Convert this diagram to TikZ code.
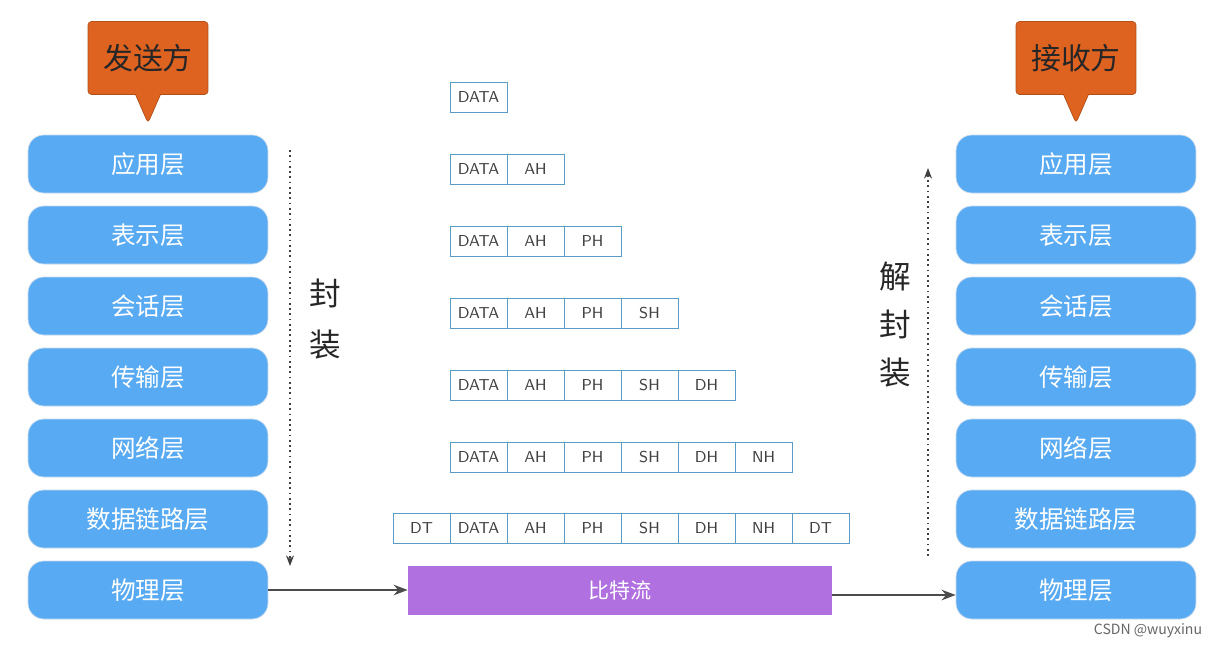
\documentclass[tikz,border=0pt]{standalone}
\usepackage{fontspec}
\setmainfont{Noto Sans CJK SC}
\usetikzlibrary{positioning,shapes.callouts,arrows.meta}
\definecolor{layerblue}{HTML}{58AAF2}
\definecolor{calloutorange}{HTML}{DE6220}
\definecolor{streampurple}{HTML}{B070E0}
\definecolor{cellblue}{HTML}{5B9CC6}
\tikzset{
  layer/.style={draw=layerblue!80!black!30, fill=layerblue, rounded corners=9pt, minimum width=4.8cm, minimum height=1.16cm, text=white, font=\fontsize{14}{16}\selectfont},
  cell/.style={draw=cellblue, fill=white, minimum width=1.14cm, minimum height=0.6cm, inner sep=0pt, font=\fontsize{9}{10}\selectfont\sffamily, text=black!75},
  tag/.style={rectangle callout, fill=calloutorange, draw=calloutorange!80!black, rounded corners=2pt, minimum width=2.4cm, minimum height=1.46cm, text=black!85, font=\fontsize{17}{20}\selectfont, callout pointer width=0.5cm},
  flow/.style={-{Stealth[length=8pt]}, line width=1pt, black!70},
  dotflow/.style={-{Stealth[length=6pt]}, dotted, line width=1pt, black!75},
  bigchar/.style={font=\fontsize{18}{20}\selectfont, text=black!85}
}
\begin{document}
\begin{tikzpicture}[x=0.02cm, y=-0.02cm]
\useasboundingbox (0,0) rectangle (1208,647);
% layers of both sides
\foreach \name [count=\i] in {应用层,表示层,会话层,传输层,网络层,数据链路层,物理层} {
  \node[layer] (l\i) at (148,93+71*\i) {\name};
  \node[layer] (r\i) at (1076,93+71*\i) {\name};
}
\coordinate (sendtip) at (148,123);
\coordinate (recvtip) at (1076,123);
\node[tag, callout absolute pointer={(sendtip)}] (send) at (148,58) {发送方};
\node[tag, callout absolute pointer={(recvtip)}] (recv) at (1076,58) {接收方};
% packets
\foreach \r/\hdrs in {1/{},2/{AH},3/{AH,PH},4/{AH,PH,SH},5/{AH,PH,SH,DH},6/{AH,PH,SH,DH,NH}} {
  \node[cell] (c\r-0) at (478.5,25+72*\r) {DATA};
  \foreach \h [count=\j] in \hdrs {
    \ifx\h\empty\else \node[cell] (c\r-\j) at (478.5+57*\j,25+72*\r) {\h}; \fi
  }
}
\foreach \h [count=\j from 0] in {DT,DATA,AH,PH,SH,DH,NH,DT}
  \node[cell] (c7-\j) at (421.5+57*\j,528) {\h};
% bit stream
\node[fill=streampurple, minimum width=8.48cm, minimum height=0.98cm, text=white, font=\fontsize{12}{14}\selectfont] (bits) at (620,590) {比特流};
\draw[flow] (l7.east) -- (bits.west |- l7.east);
\draw[flow] (bits.east |- 0,595) -- (r7.west |- 0,595);
% encapsulate / decapsulate
\coordinate (etop) at (290,150);
\coordinate (ebot) at (290,566);
\draw[dotflow] (etop) -- (ebot);
\node[bigchar] (e1) at (325,293) {封};
\node[bigchar, below=0.2cm of e1] (e2) {装};
\coordinate (dbot) at (928,556);
\coordinate (dtop) at (928,168);
\draw[dotflow] (dbot) -- (dtop);
\node[bigchar] (d1) at (895,277) {解};
\node[bigchar, below=0.12cm of d1] (d2) {封};
\node[bigchar, below=0.12cm of d2] (d3) {装};
\node[font=\fontsize{8}{9}\selectfont, text=black!60] (mark) at (1148,631) {CSDN @wuyxinu};
\end{tikzpicture}
\end{document}
